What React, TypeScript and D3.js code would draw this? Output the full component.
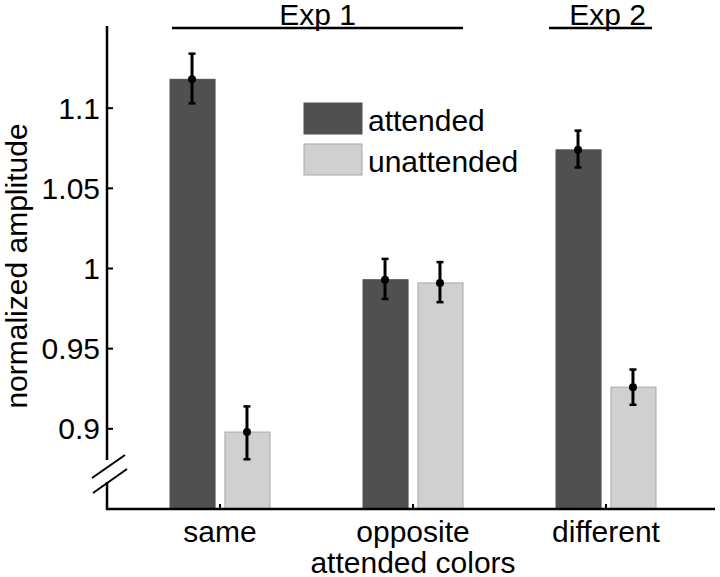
import React from "react";
import * as d3 from "d3";

const groups = ["same", "opposite", "different"];
const groupLabels = [["same"], ["opposite", "attended colors"], ["different"]];
const series = ["attended", "unattended"];
const means = {
  attended: [1.118, 0.993, 1.074],
  unattended: [0.898, 0.991, 0.926],
};
const errLow = {
  attended: [1.103, 0.981, 1.063],
  unattended: [0.881, 0.979, 0.915],
};
const errHigh = {
  attended: [1.134, 1.006, 1.086],
  unattended: [0.914, 1.004, 0.937],
};
const yTicks = [0.9, 0.95, 1, 1.05, 1.1];
const yTickLabels = ["0.9", "0.95", "1", "1.05", "1.1"];
const expLabels = ["Exp 1", "Exp 2"];

const W = 720;
const H = 577;
const FONT = "'Liberation Sans', Arial, sans-serif";

export default function App() {
  const axisX = 107;
  const axisBottom = 509;
  const axisTop = 26;
  const y = d3.scaleLinear().domain([0.85, 1.15]).range([509, 28]);
  const x = d3.scaleBand<string>().domain(groups).range([123.5, 702.5]).padding(0);
  const xi = d3.scaleBand<string>().domain(series).range([-50, 50]).paddingInner(0.18).paddingOuter(0);
  const fills: Record<string, string> = { attended: "#505050", unattended: "#d0d0d0" };
  const strokes: Record<string, string> = { attended: "#505050", unattended: "#a8a8a8" };
  const gc = (g: string) => (x(g) as number) + x.bandwidth() / 2;

  const exp1L = gc("same") - 48;
  const exp1R = gc("opposite") + 50;
  const exp2L = gc("different") - 57;
  const exp2R = gc("different") + 46;

  return (
    <svg width={W} height={H} style={{ position: "absolute", left: 0, top: 0, background: "#fff" }} fontFamily={FONT}>
      {/* bars */}
      {series.map((s) =>
        groups.map((g, i) => {
          const bx = gc(g) + (xi(s) as number);
          const v = (means as any)[s][i];
          return (
            <rect
              key={s + g}
              x={bx}
              y={y(v)}
              width={xi.bandwidth()}
              height={axisBottom - y(v)}
              fill={fills[s]}
              stroke={strokes[s]}
              strokeWidth={1}
            />
          );
        })
      )}
      {/* error bars */}
      {series.map((s) =>
        groups.map((g, i) => {
          const cx = gc(g) + (xi(s) as number) + xi.bandwidth() / 2 - 0.5;
          const lo = y((errLow as any)[s][i]);
          const hi = y((errHigh as any)[s][i]);
          const m = y((means as any)[s][i]);
          return (
            <g key={"e" + s + g} stroke="#000" strokeWidth={3}>
              <line x1={cx} x2={cx} y1={lo} y2={hi} />
              <line x1={cx - 3.5} x2={cx + 3.5} y1={lo} y2={lo} strokeWidth={2.5} />
              <line x1={cx - 3.5} x2={cx + 3.5} y1={hi} y2={hi} strokeWidth={2.5} />
              <circle cx={cx} cy={m} r={4} fill="#000" stroke="none" />
            </g>
          );
        })
      )}
      {/* y axis */}
      <line x1={axisX} x2={axisX} y1={axisTop} y2={axisBottom + 1} stroke="#000" strokeWidth={2.5} />
      {yTicks.map((t, i) => (
        <g key={t}>
          <line x1={axisX} x2={axisX + 6} y1={y(t)} y2={y(t)} stroke="#000" strokeWidth={2} />
          <text x={100} y={y(t)} dy="0.35em" textAnchor="end" fontSize={30} fill="#000">
            {yTickLabels[i]}
          </text>
        </g>
      ))}
      {/* axis break */}
      <rect x={axisX - 2} y={460} width={4} height={22} fill="#fff" />
      <line x1={92} y1={478} x2={125} y2={455} stroke="#000" strokeWidth={2} />
      <line x1={93} y1={493} x2={127} y2={469} stroke="#000" strokeWidth={2} />
      {/* x axis */}
      <line x1={axisX - 1} x2={715} y1={axisBottom} y2={axisBottom} stroke="#000" strokeWidth={2.5} />
      {groups.map((g, i) => (
        <g key={"xl" + g}>
          <line x1={gc(g)} x2={gc(g)} y1={axisBottom} y2={axisBottom - 5} stroke="#000" strokeWidth={2} />
          {groupLabels[i].map((l, j) => (
            <text key={l} x={gc(g)} y={542 + j * 31} textAnchor="middle" fontSize={30} fill="#000">
              {l}
            </text>
          ))}
        </g>
      ))}
      {/* y label */}
      <text
        transform={`translate(27,266) rotate(-90)`}
        textAnchor="middle"
        fontSize={30}
        fill="#000"
      >
        normalized amplitude
      </text>
      {/* experiment labels */}
      <line x1={exp1L} x2={exp1R} y1={28} y2={28} stroke="#000" strokeWidth={2.5} />
      <text x={(exp1L + exp1R) / 2} y={25} textAnchor="middle" fontSize={30} fill="#000">
        {expLabels[0]}
      </text>
      <line x1={exp2L} x2={exp2R} y1={28} y2={28} stroke="#000" strokeWidth={2.5} />
      <text x={(exp2L + exp2R) / 2 + 7} y={25} textAnchor="middle" fontSize={30} fill="#000">
        {expLabels[1]}
      </text>
      {/* legend */}
      {series.map((s, i) => (
        <g key={"lg" + s}>
          <rect x={304} y={103 + i * 41} width={58} height={31} fill={fills[s]} stroke={strokes[s]} strokeWidth={1} />
          <text x={368} y={131 + i * 41} fontSize={30} fill="#000">
            {s}
          </text>
        </g>
      ))}
    </svg>
  );
}
